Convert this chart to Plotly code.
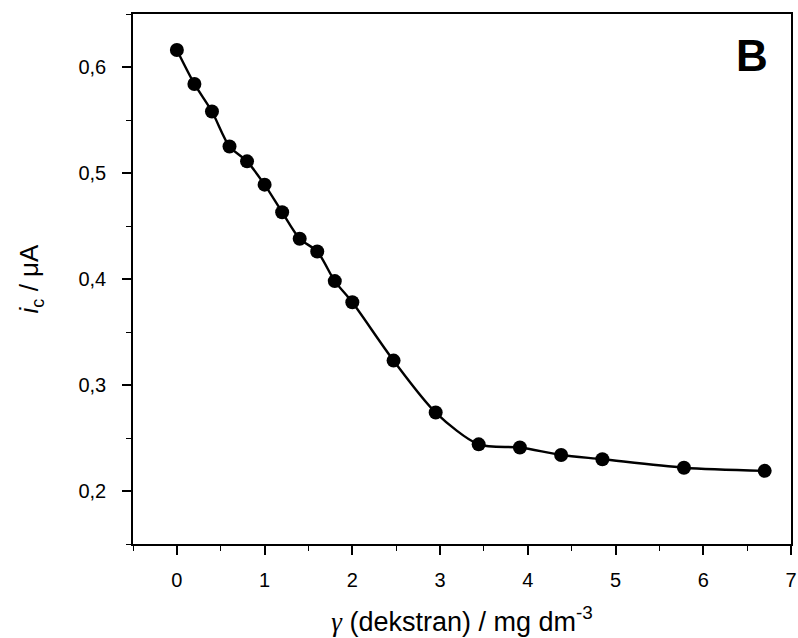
import plotly.graph_objects as go

conc = [0, 0.2, 0.4, 0.6, 0.8, 1.0, 1.2, 1.4, 1.6, 1.8, 2.0, 2.47, 2.95, 3.44, 3.91, 4.38, 4.85, 5.78, 6.70]
current = [0.616, 0.584, 0.558, 0.525, 0.511, 0.489, 0.463, 0.438, 0.426, 0.398, 0.378,
           0.323, 0.274, 0.244, 0.241, 0.234, 0.230, 0.222, 0.219]

x_ticks = [0, 1, 2, 3, 4, 5, 6, 7]
y_ticks = [0.2, 0.3, 0.4, 0.5, 0.6]

fig = go.Figure()
fig.add_trace(go.Scatter(
    x=conc, y=current, mode="lines+markers",
    line=dict(color="black", width=2.4, shape="spline", smoothing=0.8),
    marker=dict(color="black", size=14),
    showlegend=False,
))

font = "Liberation Sans, Arial, sans-serif"
axis_common = dict(
    showline=True, linecolor="black", linewidth=1.6, mirror=True,
    ticks="outside", ticklen=9, tickwidth=1.6, tickcolor="black",
    showgrid=False, zeroline=False, automargin=False,
    tickfont=dict(family=font, size=20, color="black"),
)

fig.update_xaxes(
    range=[-0.5, 7], tickvals=x_ticks, ticklabelstandoff=8,
    minor=dict(dtick=0.5, tick0=0, ticks="outside", ticklen=5, tickwidth=1.4, tickcolor="black"),
    title=dict(text="<span style='font-family:Liberation Serif, Times New Roman, serif'><i>γ</i></span> (dekstran) / mg dm<sup>-3</sup>",
               font=dict(family=font, size=27, color="black"), standoff=22),
    **axis_common,
)
fig.update_yaxes(
    range=[0.15, 0.65], tickvals=y_ticks, tickformat=".1f", ticklabelstandoff=12,
    minor=dict(dtick=0.05, tick0=0, ticks="outside", ticklen=5, tickwidth=1.4, tickcolor="black"),
    title=dict(text="<i>i</i><sub>c</sub> / μA",
               font=dict(family=font, size=26, color="black"), standoff=32),
    **axis_common,
)

fig.add_annotation(
    x=0.968, y=0.972, xref="paper", yref="paper", text="<b>B</b>",
    showarrow=False, font=dict(family=font, size=44, color="black"),
)

fig.update_layout(
    width=798, height=638,
    margin=dict(l=133, r=7, t=14, b=94),
    plot_bgcolor="white", paper_bgcolor="white",
    separators=", ",
)

fig.write_html("out.html", config={"displayModeBar": False},
               post_script="document.body.style.margin='0';")
